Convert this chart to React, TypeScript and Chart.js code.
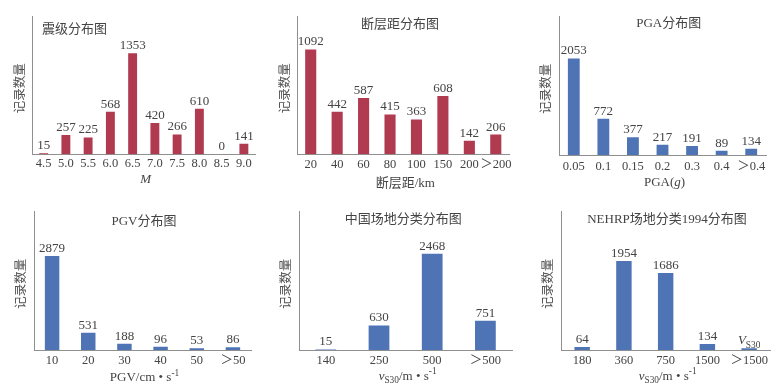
import React, { useEffect, useRef } from 'react';
import { Chart, registerables } from 'chart.js';
Chart.register(...registerables);

// ---------- data ----------
const magCategories = ['4.5', '5.0', '5.5', '6.0', '6.5', '7.0', '7.5', '8.0', '8.5', '9.0'];
const magCounts = [15, 257, 225, 568, 1353, 420, 266, 610, 0, 141];

const distCategories = ['20', '40', '60', '80', '100', '150', '200', '＞200'];
const distCounts = [1092, 442, 587, 415, 363, 608, 142, 206];

const pgaCategories = ['0.05', '0.1', '0.15', '0.2', '0.3', '0.4', '＞0.4'];
const pgaCounts = [2053, 772, 377, 217, 191, 89, 134];

const pgvCategories = ['10', '20', '30', '40', '50', '＞50'];
const pgvCounts = [2879, 531, 188, 96, 53, 86];

const cnSiteCategories = ['140', '250', '500', '＞500'];
const cnSiteCounts = [15, 630, 2468, 751];

const nehrpCategories = ['180', '360', '750', '1500', '＞1500'];
const nehrpCounts = [64, 1954, 1686, 134, 36];

// ---------- style ----------
const FONT = "'Liberation Serif', 'Noto Sans CJK SC', serif";
const RED = '#B03A4F';
const BLUE = '#4E74B5';
const AXIS = '#8f8f8f';
const TEXT = '#444444';

type Seg = { t: string; italic?: boolean; sub?: boolean; sup?: boolean };

function segFont(s: Seg, size: number) {
  const sz = s.sub || s.sup ? size * 0.72 : size;
  return `${s.italic ? 'italic ' : ''}${sz}px ${FONT}`;
}

function drawRich(ctx: CanvasRenderingContext2D, segs: Seg[], x: number, baseline: number, size: number, align: 'left' | 'center') {
  let total = 0;
  const widths = segs.map((s) => {
    ctx.font = segFont(s, size);
    const w = ctx.measureText(s.t).width;
    total += w;
    return w;
  });
  let cx = align === 'center' ? x - total / 2 : x;
  ctx.textAlign = 'left';
  ctx.textBaseline = 'alphabetic';
  segs.forEach((s, i) => {
    ctx.font = segFont(s, size);
    let dy = 0;
    if (s.sub) dy = size * 0.28;
    if (s.sup) dy = -size * 0.4;
    ctx.fillText(s.t, cx, baseline + dy);
    cx += widths[i];
  });
}

type Panel = {
  cell: [number, number, number, number];
  area: [number, number, number, number];
  categories: string[];
  values: number[];
  labelOverride?: (Seg[] | null)[];
  color: string;
  max: number;
  title: string;
  titleAlign: 'left' | 'center';
  titlePos: [number, number];
  xTitle: Seg[];
  xTitleY: number;
  tickPad: number;
  barPct: number;
};

const panels: Panel[] = [
  {
    cell: [0, 0, 261, 195], area: [32.5, 16, 255, 154.3],
    categories: magCategories, values: magCounts, color: RED, max: 1850,
    title: '震级分布图', titleAlign: 'left', titlePos: [42, 28],
    xTitle: [{ t: 'M', italic: true }], xTitleY: 178, tickPad: 2, barPct: 0.4,
  },
  {
    cell: [261, 0, 522, 195], area: [297.5, 16, 509, 154.3],
    categories: distCategories, values: distCounts, color: RED, max: 1440,
    title: '断层距分布图', titleAlign: 'center', titlePos: [400, 23],
    xTitle: [{ t: '断层距/km' }], xTitleY: 182, tickPad: 3, barPct: 0.42,
  },
  {
    cell: [522, 0, 783, 195], area: [559, 16.7, 766, 155],
    categories: pgaCategories, values: pgaCounts, color: BLUE, max: 2940,
    title: 'PGA分布图', titleAlign: 'center', titlePos: [668.7, 22.3],
    xTitle: [{ t: 'PGA(' }, { t: 'g', italic: true }, { t: ')' }], xTitleY: 181.7, tickPad: 4, barPct: 0.4,
  },
  {
    cell: [0, 195, 261, 389], area: [34, 211.7, 251, 350],
    categories: pgvCategories, values: pgvCounts, color: BLUE, max: 4236,
    title: 'PGV分布图', titleAlign: 'center', titlePos: [144, 220],
    xTitle: [{ t: 'PGV/cm • s' }, { t: '-1', sup: true }], xTitleY: 376.5, tickPad: 3, barPct: 0.4,
  },
  {
    cell: [261, 195, 522, 389], area: [299.2, 211.7, 512, 350],
    categories: cnSiteCategories, values: cnSiteCounts, color: BLUE, max: 3546,
    title: '中国场地分类分布图', titleAlign: 'center', titlePos: [403.3, 218.3],
    xTitle: [{ t: 'v', italic: true }, { t: 'S30', sub: true }, { t: '/m • s' }, { t: '-1', sup: true }], xTitleY: 375, tickPad: 3, barPct: 0.39,
  },
  {
    cell: [522, 195, 783, 389], area: [561.3, 211.7, 770, 350],
    categories: nehrpCategories, values: nehrpCounts, color: BLUE, max: 3033,
    labelOverride: [null, null, null, null, [{ t: 'V', italic: true }, { t: 'S30', sub: true }]],
    title: 'NEHRP场地分类1994分布图', titleAlign: 'center', titlePos: [667, 218],
    xTitle: [{ t: 'v', italic: true }, { t: 'S30', sub: true }, { t: '/m • s' }, { t: '-1', sup: true }], xTitleY: 375, tickPad: 3, barPct: 0.37,
  },
];

function PanelChart({ p }: { p: Panel }) {
  const ref = useRef<HTMLCanvasElement | null>(null);
  useEffect(() => {
    if (!ref.current) return;
    const [cx0, cy0, cx1, cy1] = p.cell;
    const [ax0, ay0, ax1, ay1] = p.area;
    const yW = ax0 - cx0;
    const xH = cy1 - ay1;
    const textPlugin = {
      id: 'texts',
      afterDraw(chart: any) {
        const ctx: CanvasRenderingContext2D = chart.ctx;
        const area = chart.chartArea;
        ctx.save();
        ctx.fillStyle = TEXT;
        drawRich(ctx, [{ t: p.title }], p.titlePos[0] - cx0, p.titlePos[1] - cy0 + 4.5, 13, p.titleAlign);
        drawRich(ctx, p.xTitle, (area.left + area.right) / 2 + 2, p.xTitleY - cy0 + 4.5, 13, 'center');
        ctx.save();
        ctx.translate(area.left - 13.5, (area.top + area.bottom) / 2 + 3);
        ctx.rotate(-Math.PI / 2);
        ctx.fillStyle = '#505050';
        drawRich(ctx, [{ t: '记录数量' }], 0, 4.5, 12.5, 'center');
        ctx.restore();
        const meta = chart.getDatasetMeta(0);
        meta.data.forEach((el: any, i: number) => {
          const ov = p.labelOverride ? p.labelOverride[i] : null;
          const segs = ov || [{ t: String(p.values[i]) }];
          drawRich(ctx, segs, el.x, el.y - 4, 13, 'center');
        });
        ctx.restore();
      },
    };
    const chart = new Chart(ref.current, {
      type: 'bar',
      data: {
        labels: p.categories,
        datasets: [
          {
            data: p.values,
            backgroundColor: p.color,
            borderWidth: 0,
            categoryPercentage: 1,
            barPercentage: p.barPct,
          },
        ],
      },
      options: {
        animation: false,
        responsive: false,
        maintainAspectRatio: false,
        devicePixelRatio: 1,
        layout: { padding: { top: ay0 - cy0, right: cx1 - ax1, left: 0, bottom: 0 } },
        plugins: { legend: { display: false }, tooltip: { enabled: false }, title: { display: false } },
        scales: {
          x: {
            type: 'category',
            offset: true,
            grid: { display: false, drawTicks: false },
            border: { display: true, color: AXIS, width: 1 },
            ticks: {
              font: { family: FONT, size: 12.5 },
              color: TEXT,
              padding: p.tickPad,
              maxRotation: 0,
              minRotation: 0,
              autoSkip: false,
            },
            afterFit: (s: any) => {
              s.height = xH;
            },
          },
          y: {
            min: 0,
            max: p.max,
            grid: { display: false, drawTicks: false },
            border: { display: true, color: AXIS, width: 1 },
            ticks: { display: false },
            afterFit: (s: any) => {
              s.width = yW;
            },
          },
        },
      } as any,
      plugins: [textPlugin],
    });
    return () => chart.destroy();
  }, [p]);
  const [cx0, cy0, cx1, cy1] = p.cell;
  return (
    <canvas
      ref={ref}
      width={cx1 - cx0}
      height={cy1 - cy0}
      style={{ position: 'absolute', left: cx0, top: cy0, width: cx1 - cx0, height: cy1 - cy0, display: 'block' }}
    />
  );
}

export default function App() {
  return (
    <div style={{ position: 'fixed', left: 0, top: 0, width: 783, height: 389, background: '#fff', overflow: 'hidden' }}>
      {panels.map((p, i) => (
        <PanelChart key={i} p={p} />
      ))}
    </div>
  );
}
